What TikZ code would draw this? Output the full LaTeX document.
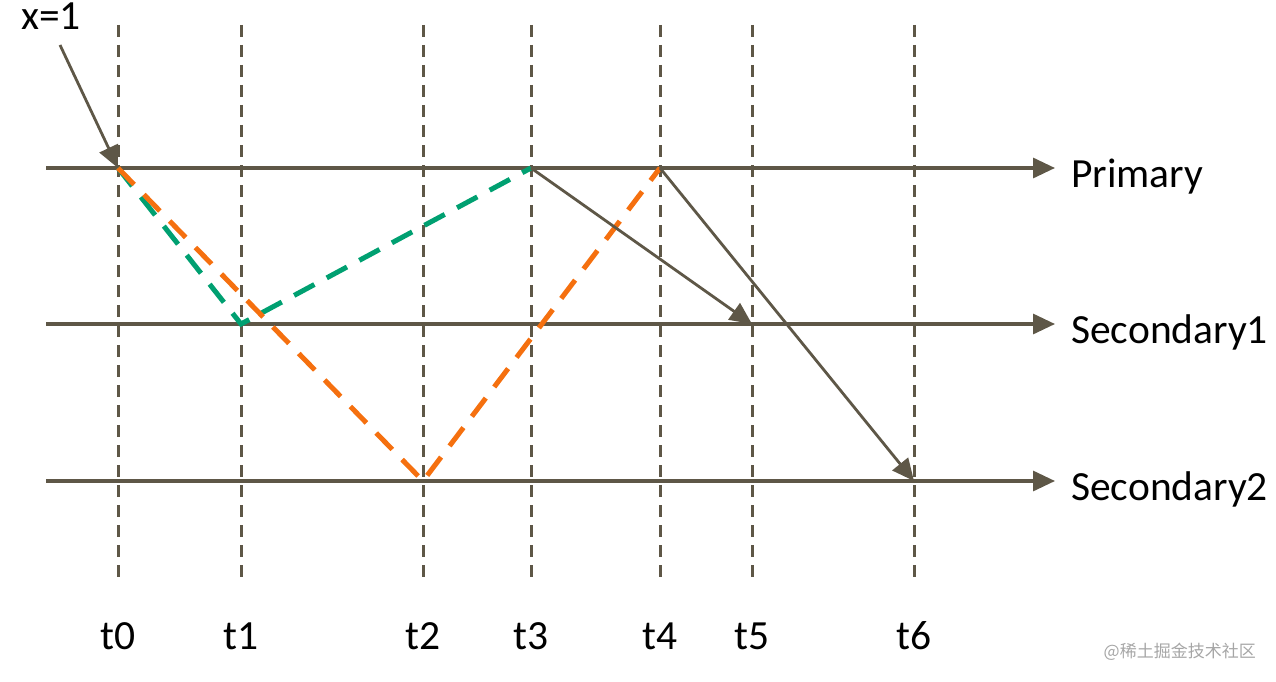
\documentclass[tikz,border=0pt]{standalone}
\usepackage{fontspec}
\setmainfont{Carlito}
\newfontfamily\cjk{Noto Sans CJK SC}
\usetikzlibrary{arrows.meta}
\definecolor{ln}{HTML}{5E5747}
\definecolor{gr}{HTML}{00A071}
\definecolor{og}{HTML}{F5700F}
\tikzset{
  timeline/.style={draw=ln, line width=3pt, dash pattern=on 12pt off 8pt},
  track/.style={draw=ln, line width=3.2pt, -{Triangle[length=22pt,width=20pt]}},
  msg/.style={draw=ln, line width=2.8pt, -{Triangle[length=22pt,width=20pt]}},
  greenpath/.style={draw=gr, line width=5pt, dash pattern=on 23pt off 14pt},
  orangepath/.style={draw=og, line width=5pt, dash pattern=on 23pt off 14pt},
  lbl/.style={font=\fontsize{41.5}{44}\selectfont, inner sep=0pt, anchor=west},
  tlbl/.style={font=\fontsize{41.5}{44}\selectfont, inner sep=0pt},
}
\begin{document}
\begin{tikzpicture}[x=1pt,y=-1pt]
\useasboundingbox (0,0) rectangle (1276,682);
% time coordinates
\foreach \n/\x in {0/118,1/241,2/423,3/531,4/660,5/752,6/914}{
  \coordinate (vt\n) at (\x,25);
  \coordinate (vb\n) at (\x,578);
  \draw[timeline] (vt\n) -- (vb\n);
  \node[tlbl] (t\n) at (\x,636) {t\n};
}
% tracks
\coordinate (ps) at (46,168);
\coordinate (pe) at (1055,168);
\coordinate (s1s) at (46,324);
\coordinate (s1e) at (1055,324);
\coordinate (s2s) at (46,481);
\coordinate (s2e) at (1055,481);
\draw[track] (ps) -- (pe);
\draw[track] (s1s) -- (s1e);
\draw[track] (s2s) -- (s2e);
\node[lbl] (prim) at (1071,177) {Primary};
\node[lbl] (sec1) at (1071,332) {Secondary1};
\node[lbl] (sec2) at (1071,489) {Secondary2};
% events
\coordinate (p0) at (118,168);
\coordinate (s1a) at (241,324);
\coordinate (s2a) at (423,481);
\coordinate (p3) at (531,168);
\coordinate (p4) at (660,168);
\coordinate (s1b) at (752,324);
\coordinate (s2b) at (914,481);
% paths
\draw[greenpath] (p0) -- (s1a) -- (p3);
\draw[orangepath] (p0) -- (s2a) -- (p4);
\draw[msg] (p3) -- (s1b);
\draw[msg] (p4) -- (s2b);
% input
\node[tlbl] (x1) at (51,16) {x=1};
\coordinate (xs) at (60,45);
\draw[msg] (xs) -- (p0);
% watermark
\node[font=\cjk\fontsize{17}{18}\selectfont, text=black!35, inner sep=0pt, anchor=east] (wm) at (1256,652) {@稀土掘金技术社区};
\end{tikzpicture}
\end{document}
